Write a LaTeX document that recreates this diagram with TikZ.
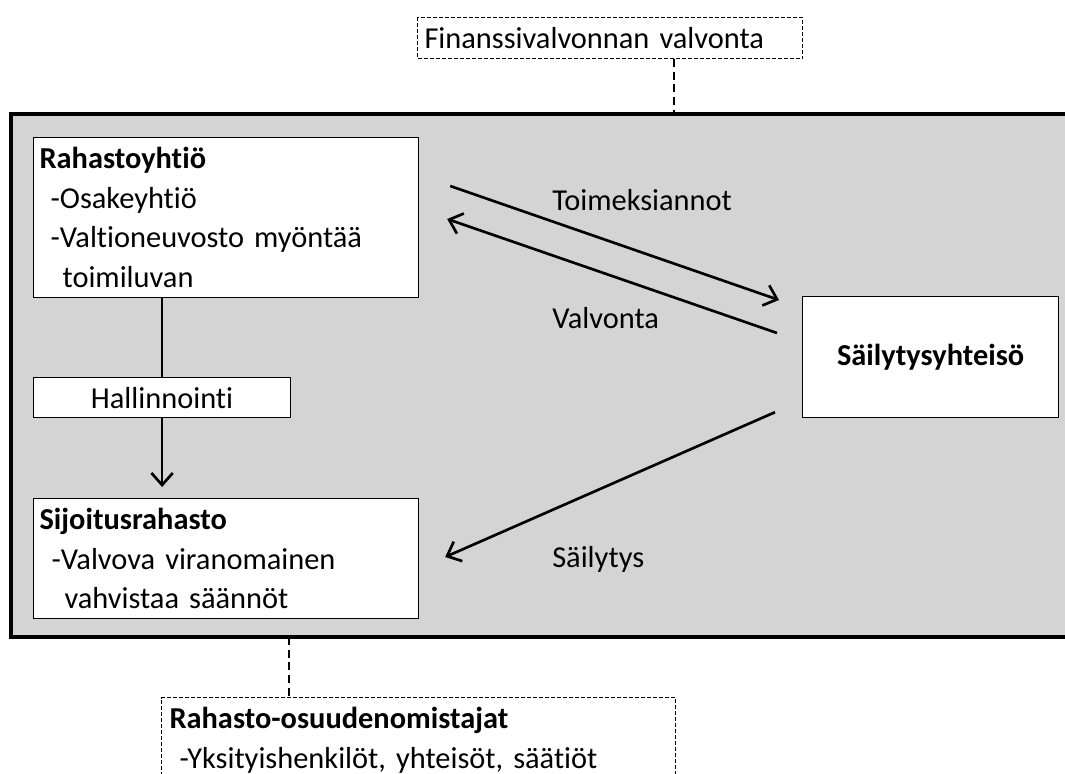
\documentclass[tikz,border=0pt]{standalone}
\usepackage{fontspec}
\setmainfont{Carlito}[Ligatures=NoCommon]
\usepackage{xcolor}
\usetikzlibrary{shapes,arrows,arrows.meta,positioning,calc}
\definecolor{taustaharmaa}{RGB}{212,212,212}

\begin{document}
\begin{tikzpicture}[x=0.75pt, y=-0.75pt,
    every node/.style={font=\fontsize{22.8}{29.7}\selectfont},
    >={Straight Barb[length=9pt,width=16pt]},
    laatikko/.style={rectangle, draw, fill=white, line width=0.9pt, anchor=north west, align=left, inner xsep=4.5pt, inner ysep=0pt},
    katkolaatikko/.style={rectangle, draw, fill=white, dash pattern=on 3pt off 1.5pt, line width=0.8pt, anchor=north west, align=left},
    katkoviiva/.style={dash pattern=on 6pt off 3.5pt, line width=1pt},
    nuoli/.style={line width=2pt},
    selite/.style={inner sep=0pt, anchor=base west}]
				\useasboundingbox (0,0) rectangle (1065,774);
				\fill[white] (0,0) rectangle (1065,774);
				
				% harmaa kehys
				\fill[taustaharmaa] (11,114) rectangle (1066,637);
				\draw[line width=2.6pt] (1066,114) -- (11,114) -- (11,637) -- (1066,637);
				
				\node[laatikko, text width=279.75pt, minimum height=120pt] (yhtio) at (33,137) {\textbf{Rahastoyhtiö}\\ \hspace*{8.25pt}-Osakeyhtiö\\ \hspace*{8.25pt}-Valtioneuvosto myöntää\\ \hspace*{17.25pt}toimiluvan};
				\node[laatikko, align=center, minimum width=192.75pt, minimum height=30pt] (hallinto) at (33,377) {Hallinnointi};
				\node[laatikko, text width=279.75pt, minimum height=90pt] (rahasto) at (33,498) {\textbf{Sijoitusrahasto}\\ \hspace*{9pt}-Valvova viranomainen\\ \hspace*{18.75pt}vahvistaa säännöt};
				\node[laatikko, align=center, minimum width=192pt, minimum height=90.75pt] (sailyttaja) at (802,296) {\textbf{Säilytysyhteisö}};
				
				\node[katkolaatikko, inner xsep=5.25pt, text width=278.25pt, minimum height=30.75pt] (valvoja) at (417,17) {Finanssivalvonnan valvonta};
				\node[katkolaatikko, inner xsep=6pt, inner ysep=7.5pt, text width=373.5pt] (omistajat) at (161,697) {\textbf{Rahasto-osuudenomistajat}\\ \hspace*{7.5pt}-Yksityishenkilöt, yhteisöt, säätiöt};
				
				\draw[nuoli] (yhtio.south -| hallinto.north) -- (hallinto.north);
				\draw[nuoli, ->] (hallinto.south) -- ($(hallinto.south |- rahasto.north)+(0,-11)$);
				
				\draw[nuoli, ->] ($(yhtio.north east)+(31,49)$) -- ($(sailyttaja.north west)+(-23,4)$);
				\draw[nuoli, ->] ($(sailyttaja.north west)+(-25,37)$) -- ($(yhtio.north east)+(28,82)$);
				\draw[nuoli, ->] ($(sailyttaja.south west)+(-27,-6)$) -- ($(rahasto.north east)+(26,59)$);
				
				\node[selite] (toimeksiannot) at (552,210) {Toimeksiannot};
				\node[selite] (valvonta) at (552,328) {Valvonta};
				\node[selite] (sailytys) at (552,567) {Säilytys};
				
				% valvonta ja omistajat katkoviivoin
				\coordinate (ylareuna) at (674,114);
				\draw[katkoviiva] (valvoja.south -| ylareuna) -- (ylareuna);
				\coordinate (alareuna) at (289,637);
				\draw[katkoviiva] (alareuna) -- (alareuna |- omistajat.north);
			\end{tikzpicture}
\end{document}
